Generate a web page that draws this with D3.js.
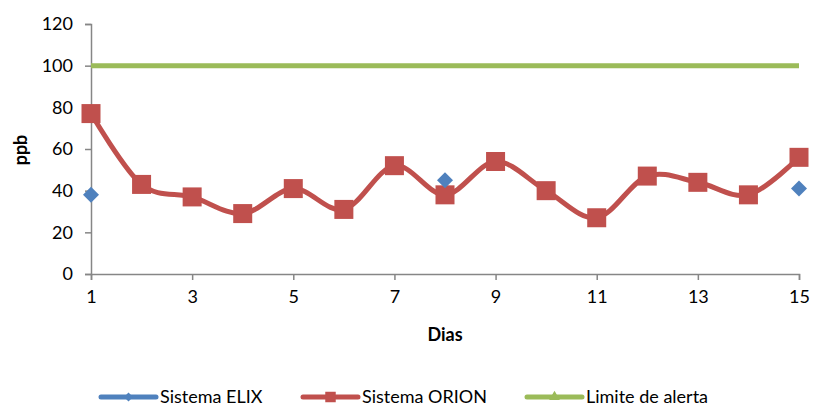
<!DOCTYPE html>
<html>
<head>
<meta charset="utf-8">
<script src="https://cdn.jsdelivr.net/npm/d3@7"></script>
<style>
  html, body { margin: 0; padding: 0; background: #fff; }
  svg { display: block; font-family: Lato, "Open Sans", sans-serif; }
</style>
</head>
<body>
<svg id="chart" width="813" height="407"></svg>
<script>
// Days of measurement
const days = [1, 2, 3, 4, 5, 6, 7, 8, 9, 10, 11, 12, 13, 14, 15];
// Sistema ELIX: only measured on days 1, 8 and 15
const elix = [38, null, null, null, null, null, null, 45, null, null, null, null, null, null, 41];
// Sistema ORION: daily readings
const orion = [77, 43, 37, 29, 41, 31, 52, 38, 54, 40, 27, 47, 44, 38, 56];
// Alert limit
const limite = [100, 100, 100, 100, 100, 100, 100, 100, 100, 100, 100, 100, 100, 100, 100];
const yTicks = [0, 20, 40, 60, 80, 100, 120];
const xTicks = [1, 3, 5, 7, 9, 11, 13, 15];
const seriesNames = ["Sistema ELIX", "Sistema ORION", "Limite de alerta"];
const colors = ["#4F81BD", "#C0504D", "#9BBB59"];

const svg = d3.select("#chart");
const x = d3.scaleLinear().domain([1, 15]).range([91, 799]);
const y = d3.scaleLinear().domain([0, 120]).range([274, 24]);
const axisColor = "#868686";

// Y axis
const yAxis = svg.append("g").attr("transform", `translate(${x(1)},0)`)
  .call(d3.axisLeft(y).tickValues(yTicks).tickSize(6).tickPadding(12).tickFormat(d3.format("d")));
// X axis
const xAxis = svg.append("g").attr("transform", `translate(0,${y(0)})`)
  .call(d3.axisBottom(x).tickValues(xTicks).tickSize(6).tickPadding(10).tickFormat(d3.format("d")));
[yAxis, xAxis].forEach(g => {
  g.select(".domain").attr("stroke", axisColor).attr("stroke-width", 1.5);
  g.selectAll(".tick line").attr("stroke", axisColor).attr("stroke-width", 1.5);
  g.selectAll(".tick text").attr("fill", "#000").style("font-size", "18px").style("font-family", "Lato, sans-serif");
});

// Axis titles
svg.append("text").attr("x", 445).attr("y", 341).attr("text-anchor", "middle")
  .style("font-size", "18px").style("font-weight", "bold").text("Dias");
svg.append("text").attr("transform", "translate(27,150) rotate(-90)").attr("text-anchor", "middle")
  .style("font-size", "18px").style("font-weight", "bold").text("ppb");

// Alert limit line
const straight = d3.line().x((d, i) => x(days[i])).y(d => y(d));
svg.append("path").datum(limite).attr("d", straight)
  .attr("fill", "none").attr("stroke", colors[2]).attr("stroke-width", 5);

// ORION smoothed line
const smooth = d3.line().x((d, i) => x(days[i])).y(d => y(d)).curve(d3.curveCardinal.tension(0));
svg.append("path").datum(orion).attr("d", smooth)
  .attr("fill", "none").attr("stroke", colors[1]).attr("stroke-width", 5).attr("stroke-linejoin", "round");

// ORION square markers
const sq = 19;
svg.append("g").selectAll("rect").data(orion).join("rect")
  .attr("x", (d, i) => x(days[i]) - sq / 2).attr("y", d => y(d) - sq / 2)
  .attr("width", sq).attr("height", sq).attr("fill", colors[1]);

// ELIX diamond markers (only where measured)
const diamond = d3.symbol().type(d3.symbolSquare).size(128);
svg.append("g").selectAll("path")
  .data(elix.map((v, i) => ({ day: days[i], v })).filter(d => d.v !== null))
  .join("path")
  .attr("d", diamond)
  .attr("transform", d => `translate(${x(d.day)},${y(d.v)}) rotate(45)`)
  .attr("fill", colors[0]);

// Legend
const legendItems = [
  { name: seriesNames[0], color: colors[0], x0: 101, marker: "diamond" },
  { name: seriesNames[1], color: colors[1], x0: 303, marker: "square" },
  { name: seriesNames[2], color: colors[2], x0: 527, marker: "triangle" }
];
const ly = 397;
const lg = svg.append("g");
legendItems.forEach(it => {
  lg.append("line").attr("x1", it.x0).attr("x2", it.x0 + 55).attr("y1", ly).attr("y2", ly)
    .attr("stroke", it.color).attr("stroke-width", 5).attr("stroke-linecap", "round");
  const cx = it.x0 + 27.5;
  let sym;
  if (it.marker === "diamond") sym = d3.symbol().type(d3.symbolSquare).size(40)();
  else if (it.marker === "square") sym = d3.symbol().type(d3.symbolSquare).size(110)();
  else sym = d3.symbol().type(d3.symbolTriangle).size(50)();
  lg.append("path").attr("d", sym)
    .attr("transform", `translate(${cx},${ly})` + (it.marker === "diamond" ? " rotate(45)" : ""))
    .attr("fill", it.color);
  lg.append("text").attr("x", it.x0 + 59).attr("y", ly + 6)
    .style("font-size", "18px").text(it.name);
});
</script>
</body>
</html>
